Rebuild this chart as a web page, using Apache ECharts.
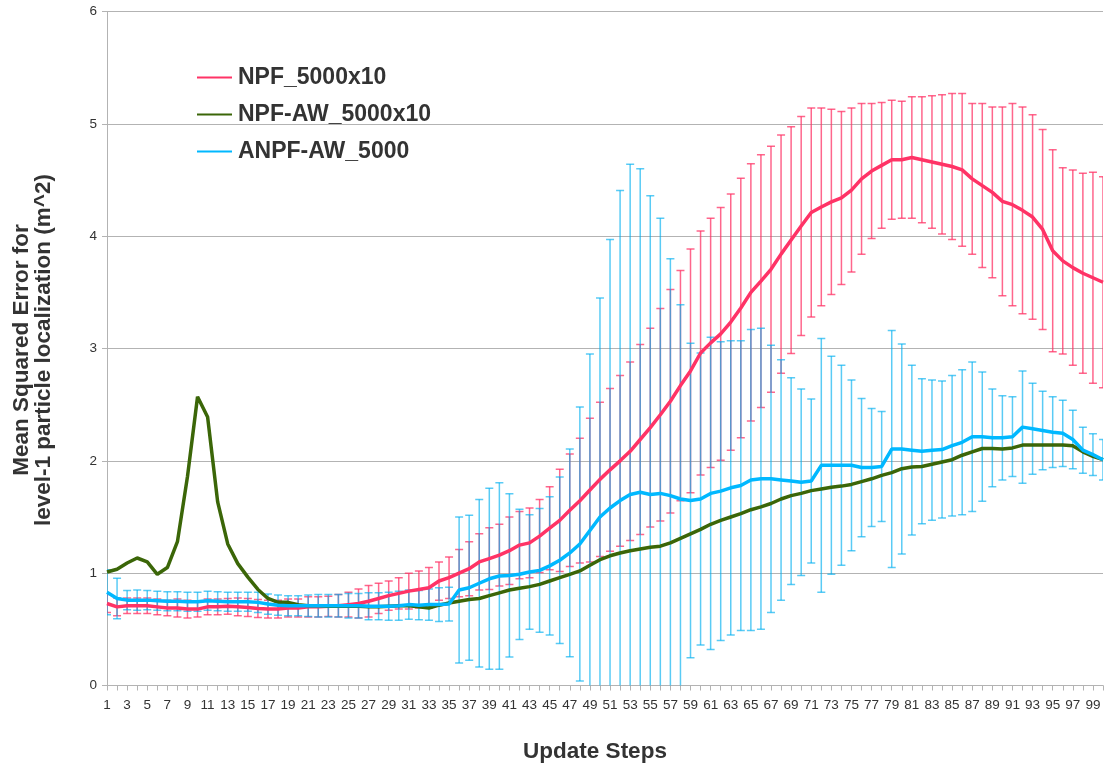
<!DOCTYPE html>
<html lang="en">
<head>
    <meta charset="UTF-8">
    <title>Mean Squared Error</title>
    <script src="https://cdn.jsdelivr.net/npm/echarts@6/dist/echarts.min.js"></script>
    <style>
        body { margin: 0; background: #fff; }
    </style>
</head>
<body>
<div id="main" style="width: 1105px;height:768px;"></div>
<script type="text/javascript">
    // update steps 1..100
    var steps = [];
    for (var s = 1; s <= 100; s++) steps.push(String(s));

    var npfMean = [0.73,0.70,0.71,0.71,0.71,0.70,0.69,0.69,0.68,0.68,
        0.70,0.70,0.705,0.70,0.695,0.685,0.68,0.68,0.69,0.69,
        0.70,0.70,0.705,0.71,0.72,0.73,0.75,0.775,0.80,0.82,
        0.84,0.855,0.87,0.93,0.96,1.00,1.04,1.10,1.13,1.16,
        1.20,1.25,1.27,1.33,1.40,1.47,1.56,1.645,1.74,1.835,
        1.92,2.00,2.085,2.19,2.295,2.41,2.53,2.67,2.80,2.96,
        3.05,3.13,3.235,3.36,3.50,3.60,3.705,3.84,3.965,4.09,
        4.21,4.26,4.305,4.34,4.41,4.51,4.58,4.63,4.68,4.68,
        4.70,4.68,4.66,4.64,4.62,4.59,4.51,4.45,4.39,4.31,
        4.28,4.23,4.17,4.06,3.87,3.78,3.72,3.67,3.63,3.59];
    var npfErr = [0.08,0.08,0.07,0.07,0.07,0.07,0.07,0.08,0.08,0.07,
        0.07,0.07,0.07,0.08,0.08,0.08,0.08,0.08,0.08,0.08,
        0.09,0.09,0.09,0.10,0.11,0.13,0.14,0.135,0.13,0.14,
        0.16,0.165,0.18,0.17,0.185,0.21,0.24,0.25,0.275,0.275,
        0.30,0.30,0.31,0.325,0.37,0.455,0.50,0.555,0.64,0.687,
        0.725,0.76,0.795,0.845,0.885,0.945,0.995,1.025,1.085,1.085,
        1.11,1.125,1.14,1.155,1.145,1.125,1.095,1.06,1.01,0.975,
        0.93,0.88,0.825,0.77,0.73,0.67,0.60,0.56,0.53,0.52,
        0.54,0.56,0.59,0.62,0.65,0.68,0.67,0.73,0.76,0.84,
        0.90,0.92,0.91,0.89,0.90,0.83,0.87,0.89,0.94,0.94];

    var npfAwMean = [1.01,1.035,1.09,1.135,1.10,0.99,1.05,1.28,1.86,2.57,
        2.39,1.635,1.26,1.085,0.965,0.855,0.775,0.74,0.74,0.72,
        0.71,0.71,0.705,0.705,0.705,0.705,0.70,0.70,0.705,0.71,
        0.71,0.70,0.69,0.715,0.735,0.75,0.765,0.775,0.80,0.825,
        0.85,0.865,0.88,0.90,0.93,0.96,0.99,1.02,1.07,1.12,
        1.155,1.18,1.20,1.215,1.23,1.24,1.27,1.31,1.35,1.39,
        1.435,1.47,1.50,1.53,1.565,1.59,1.62,1.66,1.69,1.71,
        1.735,1.75,1.765,1.775,1.79,1.815,1.84,1.87,1.895,1.93,
        1.945,1.95,1.97,1.99,2.01,2.05,2.08,2.11,2.11,2.105,
        2.115,2.14,2.14,2.14,2.14,2.14,2.135,2.08,2.04,2.01];

    var anpfMean = [0.83,0.775,0.76,0.76,0.76,0.755,0.75,0.75,0.745,0.745,
        0.755,0.75,0.745,0.745,0.745,0.74,0.725,0.715,0.71,0.71,
        0.71,0.71,0.71,0.71,0.71,0.71,0.705,0.705,0.705,0.71,
        0.72,0.715,0.72,0.72,0.725,0.85,0.87,0.91,0.95,0.975,
        0.98,0.99,1.01,1.025,1.065,1.115,1.18,1.26,1.38,1.50,
        1.58,1.646,1.70,1.72,1.70,1.71,1.69,1.66,1.646,1.66,
        1.71,1.73,1.76,1.78,1.83,1.84,1.84,1.83,1.82,1.81,
        1.82,1.96,1.96,1.96,1.96,1.94,1.94,1.95,2.105,2.105,
        2.095,2.085,2.095,2.10,2.135,2.165,2.215,2.215,2.205,2.205,
        2.215,2.30,2.285,2.27,2.255,2.245,2.19,2.095,2.055,2.01];
    var anpfErr = [0.20,0.18,0.085,0.09,0.085,0.085,0.085,0.085,0.085,0.085,
        0.085,0.085,0.085,0.085,0.085,0.09,0.09,0.09,0.09,0.09,
        0.095,0.10,0.10,0.10,0.11,0.11,0.12,0.12,0.125,0.13,
        0.13,0.13,0.14,0.15,0.15,0.65,0.645,0.745,0.806,0.83,
        0.727,0.58,0.51,0.55,0.615,0.74,0.925,1.22,1.57,1.95,
        2.39,2.76,2.94,2.88,2.66,2.45,2.11,1.73,1.40,1.30,
        1.39,1.33,1.31,1.29,1.34,1.34,1.19,1.07,0.92,0.83,
        0.73,1.13,0.97,0.89,0.76,0.615,0.525,0.49,1.055,0.935,
        0.755,0.645,0.625,0.61,0.625,0.645,0.665,0.575,0.435,0.375,
        0.355,0.50,0.405,0.35,0.315,0.295,0.26,0.205,0.185,0.18];

    var FONT = "'Liberation Sans', Arial, sans-serif";

    // [index, low, high]
    function errData(mean, err) {
        var res = [];
        for (var i = 0; i < mean.length; i++) {
            res.push([i, mean[i] - err[i], mean[i] + err[i]]);
        }
        return res;
    }

    function errRender(color) {
        return function (params, api) {
            var lo = api.coord([api.value(0), api.value(1)]);
            var hi = api.coord([api.value(0), api.value(2)]);
            var w = 4;
            var st = { stroke: color, lineWidth: 1.5 };
            return {
                type: 'group',
                children: [
                    { type: 'line', shape: { x1: hi[0], y1: hi[1], x2: lo[0], y2: lo[1] }, style: st },
                    { type: 'line', shape: { x1: hi[0] - w, y1: hi[1], x2: hi[0] + w, y2: hi[1] }, style: st },
                    { type: 'line', shape: { x1: lo[0] - w, y1: lo[1], x2: lo[0] + w, y2: lo[1] }, style: st }
                ]
            };
        };
    }

    var myChart = echarts.init(document.getElementById('main'));
    var option = {
        animation: false,
        textStyle: { fontFamily: FONT },
        grid: { left: 107, right: 2, top: 11.5, bottom: 82.5 },
        legend: {
            data: ['NPF_5000x10', 'NPF-AW_5000x10', 'ANPF-AW_5000'],
            orient: 'vertical',
            left: 197,
            top: 66,
            padding: 0,
            icon: 'rect',
            itemWidth: 35,
            itemHeight: 2,
            itemGap: 14,
            textStyle: { fontSize: 23, fontWeight: 'bold', color: '#333', fontFamily: FONT, padding: [0, 0, 0, 1] }
        },
        xAxis: {
            type: 'category',
            data: steps,
            boundaryGap: false,
            axisLine: { lineStyle: { color: '#b3b3b3' } },
            axisTick: { show: true, interval: 0, length: 5, lineStyle: { color: '#b3b3b3' } },
            axisLabel: { interval: 1, fontSize: 13.5, color: '#333', margin: 13, fontFamily: FONT },
            splitLine: { show: false }
        },
        yAxis: {
            type: 'value',
            min: 0,
            max: 6,
            interval: 1,
            axisLine: { show: true, lineStyle: { color: '#b3b3b3' } },
            axisTick: { show: true, length: 5, lineStyle: { color: '#b3b3b3' } },
            axisLabel: { fontSize: 13.5, color: '#333', margin: 10, fontFamily: FONT },
            splitLine: { lineStyle: { color: '#b3b3b3' } }
        },
        graphic: [
            {
                type: 'text', x: 595, y: 752,
                style: { text: 'Update Steps', font: 'bold 22.5px ' + FONT, fill: '#333',
                    textAlign: 'center', textVerticalAlign: 'middle' }
            },
            {
                type: 'text', x: 22, y: 350, rotation: Math.PI / 2,
                style: { text: 'Mean Squared Error for', font: 'bold 22.5px ' + FONT, fill: '#333',
                    textAlign: 'center', textVerticalAlign: 'middle' }
            },
            {
                type: 'text', x: 44, y: 350, rotation: Math.PI / 2,
                style: { text: 'level-1 particle localization (m^2)', font: 'bold 22.5px ' + FONT, fill: '#333',
                    textAlign: 'center', textVerticalAlign: 'middle' }
            }
        ],
        series: [
            {
                name: 'npf-err',
                type: 'custom',
                renderItem: errRender('rgba(255,51,102,0.75)'),
                encode: { x: 0, y: [1, 2] },
                data: errData(npfMean, npfErr),
                clip: true,
                z: 1
            },
            {
                name: 'anpf-err',
                type: 'custom',
                renderItem: errRender('rgba(0,175,240,0.65)'),
                encode: { x: 0, y: [1, 2] },
                data: errData(anpfMean, anpfErr),
                clip: true,
                z: 1
            },
            {
                name: 'NPF_5000x10',
                type: 'line',
                data: npfMean,
                symbol: 'none',
                color: '#ff3366',
                lineStyle: { width: 3.5, color: '#ff3366' },
                z: 3
            },
            {
                name: 'NPF-AW_5000x10',
                type: 'line',
                data: npfAwMean,
                symbol: 'none',
                color: '#3b6608',
                lineStyle: { width: 3.5, color: '#3b6608' },
                z: 3
            },
            {
                name: 'ANPF-AW_5000',
                type: 'line',
                data: anpfMean,
                symbol: 'none',
                color: '#00b8ff',
                lineStyle: { width: 3.5, color: '#00b8ff' },
                z: 3
            }
        ]
    };
    myChart.setOption(option);
</script>
</body>
</html>
